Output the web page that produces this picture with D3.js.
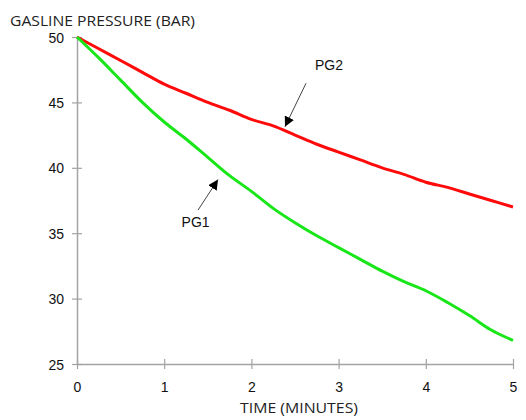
<!DOCTYPE html>
<html>
<head>
<meta charset="utf-8">
<script src="https://cdn.jsdelivr.net/npm/d3@7"></script>
<style>
  html, body { margin: 0; padding: 0; background: #fff; }
  svg { display: block; }
</style>
</head>
<body>
<svg id="chart" width="526" height="420"></svg>
<script>
// Time in minutes and gas line pressure (bar) for the two gauges
const time = [0, 0.25, 0.5, 0.75, 1, 1.25, 1.5, 1.75, 2, 2.25, 2.5, 2.75, 3, 3.25, 3.5, 3.75, 4, 4.25, 4.5, 4.75, 5];
const pg1 = [50, 48.4, 46.7, 45.0, 43.5, 42.2, 40.8, 39.4, 38.2, 36.9, 35.8, 34.8, 33.9, 33.0, 32.1, 31.3, 30.6, 29.7, 28.7, 27.6, 26.8];
const pg2 = [50, 49.1, 48.2, 47.3, 46.4, 45.7, 45.0, 44.4, 43.7, 43.2, 42.5, 41.8, 41.2, 40.6, 40.0, 39.5, 38.9, 38.5, 38.0, 37.5, 37.0];
const xTicks = [0, 1, 2, 3, 4, 5];
const yTicks = [25, 30, 35, 40, 45, 50];

// Callouts: label position, arrow tail and arrow head, in data units
const callouts = [
  { name: "PG2", label: [2.89, 47.5], tail: [2.626, 46.46], head: [2.385, 43.14] },
  { name: "PG1", label: [1.36, 35.47], tail: [1.388, 36.77], head: [1.617, 39.1] }
];

const svg = d3.select("#chart");
const x = d3.scaleLinear().domain([0, 5]).range([77, 513]);
const y = d3.scaleLinear().domain([25, 50]).range([364, 37]);

const axisColor = "#a3a3a3";
const tickFont = "Liberation Sans, Arial, sans-serif";

// Axes: ticks cross the axis line on both sides
const xAxis = svg.append("g").attr("transform", `translate(0,${y(25)})`)
  .call(d3.axisBottom(x).tickValues(xTicks).tickSize(0).tickFormat(d3.format("d")));
xAxis.select(".domain").attr("stroke", axisColor).attr("stroke-width", 1.5);
xAxis.selectAll(".tick").append("line").attr("y1", -5).attr("y2", 5)
  .attr("stroke", axisColor).attr("stroke-width", 1.2);
xAxis.selectAll(".tick text").attr("y", 28).attr("dy", null)
  .attr("font-family", tickFont).attr("font-size", 14).attr("fill", "#111");

const yAxis = svg.append("g").attr("transform", `translate(${x(0)},0)`)
  .call(d3.axisLeft(y).tickValues(yTicks).tickSize(0).tickFormat(d3.format("d")));
yAxis.select(".domain").attr("stroke", axisColor).attr("stroke-width", 1.5);
yAxis.selectAll(".tick").append("line").attr("x1", -5).attr("x2", 5)
  .attr("stroke", axisColor).attr("stroke-width", 1.2);
yAxis.selectAll(".tick text").attr("x", -13).attr("dy", "0.36em")
  .attr("font-family", tickFont).attr("font-size", 14).attr("fill", "#111");

// Pressure curves
const line = d3.line().x(d => x(d[0])).y(d => y(d[1])).curve(d3.curveCatmullRom.alpha(0.5));
svg.append("path").datum(time.map((t, i) => [t, pg2[i]]))
  .attr("d", line).attr("fill", "none").attr("stroke", "#ff0a0a").attr("stroke-width", 3);
svg.append("path").datum(time.map((t, i) => [t, pg1[i]]))
  .attr("d", line).attr("fill", "none").attr("stroke", "#19e619").attr("stroke-width", 3);

// Arrowhead marker
svg.append("defs").append("marker")
  .attr("id", "arrowhead").attr("viewBox", "0 0 10 10").attr("refX", 10).attr("refY", 5)
  .attr("markerWidth", 10).attr("markerHeight", 10).attr("markerUnits", "userSpaceOnUse")
  .attr("orient", "auto")
  .append("path").attr("d", "M0,0 L10,5 L0,10 Z").attr("fill", "#000");

const c = svg.append("g");
callouts.forEach(d => {
  c.append("line")
    .attr("x1", x(d.tail[0])).attr("y1", y(d.tail[1]))
    .attr("x2", x(d.head[0])).attr("y2", y(d.head[1]))
    .attr("stroke", "#444").attr("stroke-width", 1).attr("marker-end", "url(#arrowhead)");
  c.append("text").attr("x", x(d.label[0])).attr("y", y(d.label[1]))
    .attr("text-anchor", "middle").attr("font-family", tickFont).attr("font-size", 14)
    .attr("fill", "#111").text(d.name);
});

// Titles
svg.append("text").attr("x", 10).attr("y", 26)
  .attr("font-family", "Open Sans, sans-serif").attr("font-size", 15)
  .attr("textLength", 185).attr("lengthAdjust", "spacingAndGlyphs")
  .attr("fill", "#222").text("GASLINE PRESSURE (BAR)");
svg.append("text").attr("x", 299).attr("y", 413).attr("text-anchor", "middle")
  .attr("font-family", "Open Sans, sans-serif").attr("font-size", 15)
  .attr("textLength", 118).attr("lengthAdjust", "spacingAndGlyphs")
  .attr("fill", "#222").text("TIME (MINUTES)");
</script>
</body>
</html>
